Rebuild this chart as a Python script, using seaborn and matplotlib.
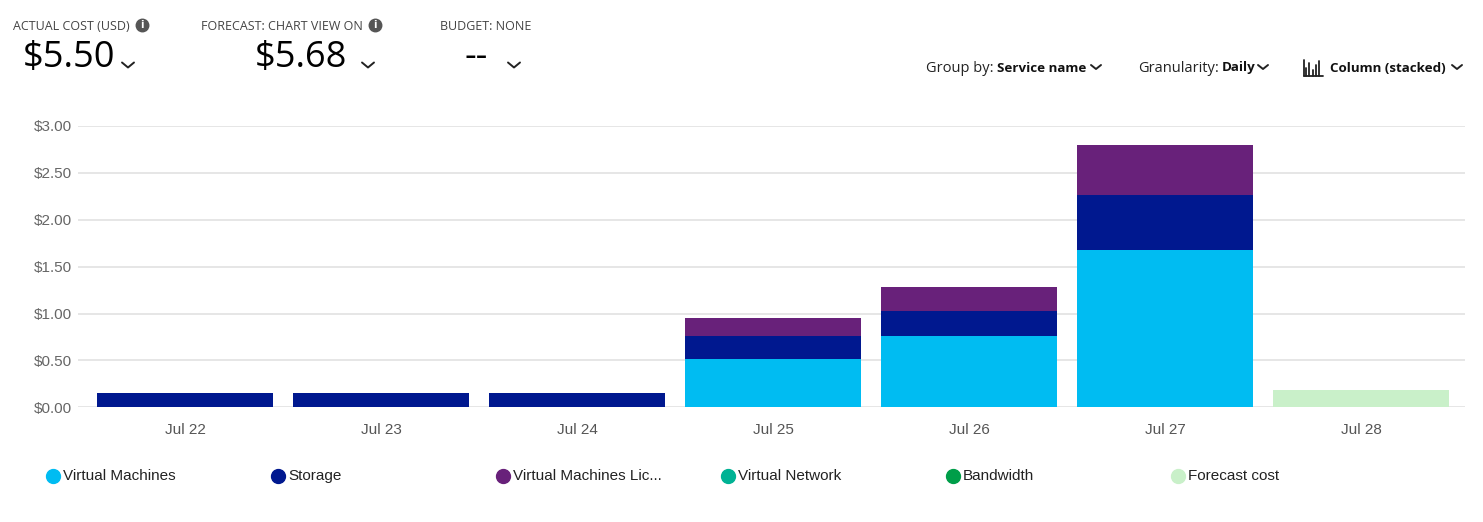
import pandas as pd
import matplotlib.pyplot as plt
import seaborn as sns
from matplotlib.lines import Line2D
from matplotlib.ticker import FuncFormatter

# data
days = ["Jul 22", "Jul 23", "Jul 24", "Jul 25", "Jul 26", "Jul 27", "Jul 28"]
vm = [0.00, 0.00, 0.00, 0.52, 0.76, 1.68, 0.00]
storage = [0.15, 0.15, 0.15, 0.24, 0.27, 0.58, 0.00]
vm_license = [0.00, 0.00, 0.00, 0.19, 0.25, 0.54, 0.00]
forecast = [0.00, 0.00, 0.00, 0.00, 0.00, 0.00, 0.18]

legend_names = ["Virtual Machines", "Storage", "Virtual Machines Lic...",
                "Virtual Network", "Bandwidth", "Forecast cost"]
legend_colors = ["#00BCF2", "#00188F", "#68217A", "#00B294", "#009E49", "#C9F0C9"]

df = pd.DataFrame({"day": days, "vm": vm, "storage": storage,
                   "lic": vm_license, "forecast": forecast})
df["c_vm"] = df["vm"]
df["c_storage"] = df["c_vm"] + df["storage"]
df["c_lic"] = df["c_storage"] + df["lic"]

sns.set_theme(style="white")
plt.rcParams["font.family"] = ["Liberation Sans", "DejaVu Sans"]

fig = plt.figure(figsize=(14.83, 5.22), dpi=100)
W, H = 1483, 522
ax = fig.add_axes([78 / W, 1 - 407.3 / H, (1465 - 78) / W, (407.3 - 126) / H])

# stacked columns: draw cumulative totals back to front
for col, color in [("c_lic", "#68217A"), ("c_storage", "#00188F"), ("c_vm", "#00BCF2")]:
    sns.barplot(data=df, x="day", y=col, order=days, color=color, width=0.9,
                saturation=1, linewidth=0, ax=ax)
sns.barplot(data=df, x="day", y="forecast", order=days, color="#C9F0C9", width=0.9,
            saturation=1, linewidth=0, ax=ax)

ax.set_xlim(-0.5 - 9 / 196, 6.5 + 6 / 196)
ax.set_ylim(0, 3.0)
ax.set_yticks([0, 0.5, 1.0, 1.5, 2.0, 2.5, 3.0])
ax.yaxis.set_major_formatter(FuncFormatter(lambda v, p: f"${v:.2f}"))
ax.grid(axis="y", color="#e1e1e1", linewidth=1.2)
ax.set_axisbelow(True)
for s in ax.spines.values():
    s.set_visible(False)
ax.set_xlabel("")
ax.set_ylabel("")
ax.tick_params(axis="x", length=0, pad=11, labelsize=11, labelcolor="#555555")
ax.tick_params(axis="y", length=0, pad=4, labelsize=11, labelcolor="#666666")


def chevron(x, y, w=5, h=4, lw=1.4):
    fig.add_artist(Line2D([(x - w) / W, x / W, (x + w) / W],
                          [1 - (y - h / 2) / H, 1 - (y + h / 2) / H, 1 - (y - h / 2) / H],
                          color="#222222", lw=lw, transform=fig.transFigure))


def info(x, y):
    fig.add_artist(Line2D([x / W], [1 - y / H], marker="o", markersize=9,
                          color="#555555", lw=0, transform=fig.transFigure))
    fig.text(x / W, 1 - (y + 0.5) / H, "i", ha="center", va="center", fontsize=7,
             color="white", fontweight="bold", family="DejaVu Sans")


# header summary
hdr = "#444444"
fig.text(13 / W, 1 - 26 / H, "ACTUAL COST (USD)", fontsize=9, color=hdr,
         va="center", family="Open Sans")
info(142, 25)
fig.text(23 / W, 1 - 58 / H, "$5.50", fontsize=26, color="black", va="center",
         family="Open Sans")
chevron(128, 65, w=6, h=5)

fig.text(201 / W, 1 - 26 / H, "FORECAST: CHART VIEW ON", fontsize=9, color=hdr,
         va="center", family="Open Sans")
info(375, 25)
fig.text(255 / W, 1 - 58 / H, "$5.68", fontsize=26, color="black", va="center",
         family="Open Sans")
chevron(368, 65, w=6, h=5)

fig.text(440 / W, 1 - 26 / H, "BUDGET: NONE", fontsize=9, color=hdr,
         va="center", family="Open Sans")
fig.text(464 / W, 1 - 58 / H, "--", fontsize=26, color="black", va="center",
         family="Open Sans")
chevron(514, 65, w=6, h=5)


# toolbar on the right: normal label followed by bold value
def toolbar(x, label, value):
    t = fig.text(x / W, 1 - 68 / H, label, fontsize=10.5, color="#222222",
                 va="center", family="Open Sans")
    fig.canvas.draw()
    bb = t.get_window_extent()
    fig.text(bb.x1 / W + 3 / W, 1 - 68 / H, value, fontsize=9.6, color="#111111",
             va="center", fontweight="bold", family="Open Sans")


toolbar(926, "Group by:", "Service name")
chevron(1096, 67)
toolbar(1138, "Granularity:", "Daily")
chevron(1263, 67)
# small column-chart icon
for i, hh in enumerate([8, 13, 6, 11, 15]):
    xx = 1306 + i * 3.3
    fig.add_artist(Line2D([xx / W, xx / W], [1 - 76 / H, 1 - (76 - hh) / H],
                          color="#222222", lw=1.3, transform=fig.transFigure))
fig.add_artist(Line2D([1304 / W, 1323 / W], [1 - 76 / H, 1 - 76 / H],
                      color="#222222", lw=1.3, transform=fig.transFigure))
fig.add_artist(Line2D([1304 / W, 1304 / W], [1 - 76 / H, 1 - 60 / H],
                      color="#222222", lw=1.3, transform=fig.transFigure))
fig.text(1330 / W, 1 - 68 / H, "Column (stacked)", fontsize=9.6, color="#111111",
         va="center", fontweight="bold", family="Open Sans")
chevron(1457, 67)

# legend
for i, (name, color) in enumerate(zip(legend_names, legend_colors)):
    x0 = 53 + i * 225
    fig.add_artist(Line2D([x0 / W], [1 - 476 / H], marker="o", markersize=10,
                          color=color, lw=0, transform=fig.transFigure))
    fig.text((x0 + 10) / W, 1 - 476 / H, name, fontsize=11, color="#222222",
             va="center")

fig.savefig("out.png", dpi=100)
